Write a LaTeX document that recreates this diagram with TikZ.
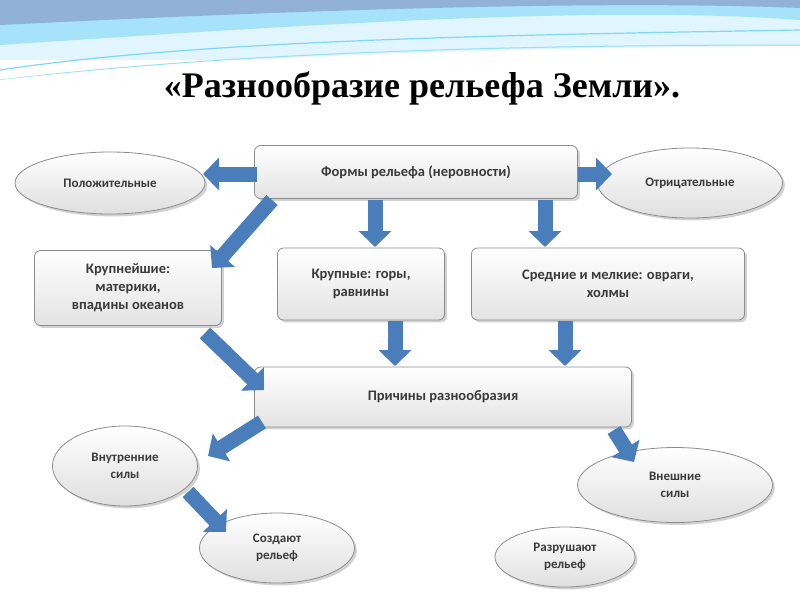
\documentclass[tikz,border=0pt]{standalone}
\usepackage{fontspec}
\setmainfont{Carlito}
\newfontfamily\titlefont{Liberation Serif}
\usetikzlibrary{arrows.meta,shapes.geometric,shadows}
\definecolor{arr}{HTML}{4A7EBB}
\definecolor{txt}{HTML}{3A3A3A}
\definecolor{bord}{HTML}{8C8C8C}
\tikzset{
 boxnode/.style={draw=bord,rounded corners=6pt,top color=white,bottom color=gray!22,drop shadow={opacity=0.35},font=\bfseries\fontsize{14.5}{18}\selectfont,text=txt,align=center,line width=0.8pt},
 ellnode/.style={ellipse,draw=bord,top color=white,bottom color=gray!25,drop shadow={opacity=0.35},font=\bfseries\fontsize{13}{17}\selectfont,text=txt,align=center,line width=0.8pt,inner sep=0pt},
 barrow/.style={draw=arr,line width=15pt,-{Triangle[length=16pt,width=32pt]}}
}
\begin{document}
\begin{tikzpicture}[x=1pt,y=-1pt]
\useasboundingbox (0,0) rectangle (800,600);
\fill[white] (0,0) rectangle (800,600);
% header waves
\fill[cyan!12] (0,0) rectangle (800,60);
\fill[cyan!35] (0,0) -- (800,0) -- (800,20) .. controls (600,5) and (300,25) .. (0,45) -- cycle;
\fill[arr!60] (0,0) -- (800,0) -- (800,8) .. controls (600,0) and (300,10) .. (0,25) -- cycle;
\draw[cyan!50,line width=1.2pt] (0,70) .. controls (200,40) and (500,35) .. (800,30);
\draw[cyan!40,line width=1pt] (0,80) .. controls (250,50) and (550,45) .. (800,45);
\fill[white] (0,80) .. controls (250,52) and (550,48) .. (800,46) -- (800,112) -- (0,112) -- cycle;
\node[font=\titlefont\bfseries\fontsize{36}{40}\selectfont] (title) at (422,88) {«Разнообразие рельефа Земли».};
% nodes
\node[boxnode,minimum width=323pt,minimum height=53pt] (forms) at (416,172) {Формы рельефа (неровности)};
\node[ellnode,minimum width=190pt,minimum height=62pt] (pos) at (110,183) {Положительные};
\node[ellnode,minimum width=185pt,minimum height=70pt] (neg) at (690,183) {Отрицательные};
\node[boxnode,minimum width=187pt,minimum height=75pt] (big1) at (128,288) {Крупнейшие:\\материки,\\впадины океанов};
\node[boxnode,minimum width=167pt,minimum height=72pt] (big2) at (361,284) {Крупные: горы,\\равнины};
\node[boxnode,minimum width=273pt,minimum height=72pt] (mid) at (608,284) {Средние и мелкие: овраги,\\холмы};
\node[boxnode,minimum width=377pt,minimum height=60pt] (cause) at (443,397) {Причины разнообразия};
\node[ellnode,minimum width=145pt,minimum height=80pt] (inner) at (125,466) {Внутренние\\силы};
\node[ellnode,minimum width=155pt,minimum height=70pt] (create) at (277,548) {Создают\\рельеф};
\node[ellnode,minimum width=195pt,minimum height=75pt] (outer) at (675,485) {Внешние\\силы};
\node[ellnode,minimum width=140pt,minimum height=60pt] (destroy) at (565,557) {Разрушают\\рельеф};
% arrows
\coordinate (a1) at (257,174); \coordinate (a2) at (203,174);
\draw[barrow] (a1) -- (a2);
\coordinate (b1) at (578,174); \coordinate (b2) at (612,174);
\draw[barrow] (b1) -- (b2);
\coordinate (c1) at (272,200); \coordinate (c2) at (212,268);
\draw[barrow] (c1) -- (c2);
\coordinate (d1) at (375,200); \coordinate (d2) at (375,247);
\draw[barrow] (d1) -- (d2);
\coordinate (e1) at (545,200); \coordinate (e2) at (545,247);
\draw[barrow] (e1) -- (e2);
\coordinate (f1) at (395,321); \coordinate (f2) at (395,366);
\draw[barrow] (f1) -- (f2);
\coordinate (g1) at (565,321); \coordinate (g2) at (565,366);
\draw[barrow] (g1) -- (g2);
\coordinate (h1) at (205,333); \coordinate (h2) at (264,390);
\draw[barrow] (h1) -- (h2);
\coordinate (i1) at (262,422); \coordinate (i2) at (208,456);
\draw[barrow] (i1) -- (i2);
\coordinate (j1) at (614,430); \coordinate (j2) at (634,462);
\draw[barrow] (j1) -- (j2);
\coordinate (k1) at (188,492); \coordinate (k2) at (226,532);
\draw[barrow] (k1) -- (k2);
\end{tikzpicture}
\end{document}
